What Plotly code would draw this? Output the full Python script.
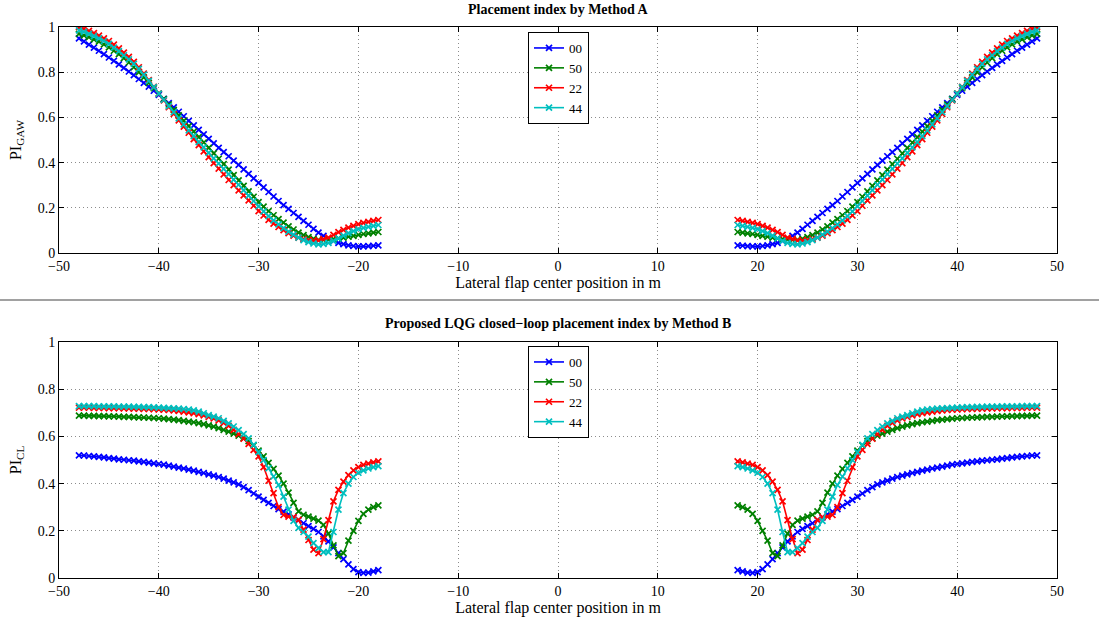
import plotly.graph_objects as go

# Lateral positions (left wing); right wing is the mirror image
x_left = [-48.0, -47.5, -47.0, -46.5, -46.0, -45.5, -45.0, -44.5, -44.0, -43.5,
          -43.0, -42.5, -42.0, -41.5, -41.0, -40.5, -40.0, -39.5, -39.0, -38.5,
          -38.0, -37.5, -37.0, -36.5, -36.0, -35.5, -35.0, -34.5, -34.0, -33.5,
          -33.0, -32.5, -32.0, -31.5, -31.0, -30.5, -30.0, -29.5, -29.0, -28.5,
          -28.0, -27.5, -27.0, -26.5, -26.0, -25.5, -25.0, -24.5, -24.0, -23.5,
          -23.0, -22.5, -22.0, -21.5, -21.0, -20.5, -20.0, -19.5, -19.0, -18.5, -18.0]

series_names = ["00", "50", "22", "44"]
series_colors = ["#0000ff", "#008000", "#ff0000", "#00bfbf"]

# Method A (PI_GAW), left side values
gaw_00 = [0.950, 0.936, 0.922, 0.909, 0.895, 0.880, 0.865, 0.850, 0.835, 0.819,
          0.803, 0.787, 0.770, 0.753, 0.736, 0.718, 0.700, 0.682, 0.663, 0.644,
          0.625, 0.605, 0.585, 0.565, 0.545, 0.525, 0.505, 0.485, 0.465, 0.446,
          0.428, 0.409, 0.390, 0.370, 0.350, 0.330, 0.310, 0.290, 0.270, 0.250,
          0.230, 0.212, 0.195, 0.177, 0.160, 0.142, 0.125, 0.107, 0.090, 0.076,
          0.063, 0.053, 0.045, 0.039, 0.034, 0.031, 0.029, 0.029, 0.030, 0.032, 0.034]
gaw_50 = [0.970, 0.963, 0.955, 0.945, 0.935, 0.923, 0.910, 0.895, 0.880, 0.862,
          0.843, 0.822, 0.800, 0.777, 0.753, 0.729, 0.705, 0.681, 0.657, 0.633,
          0.609, 0.585, 0.561, 0.537, 0.513, 0.489, 0.465, 0.441, 0.417, 0.393,
          0.369, 0.345, 0.321, 0.297, 0.273, 0.249, 0.225, 0.205, 0.185, 0.167,
          0.150, 0.134, 0.118, 0.104, 0.090, 0.079, 0.070, 0.063, 0.058, 0.058,
          0.060, 0.062, 0.065, 0.068, 0.072, 0.076, 0.080, 0.084, 0.087, 0.090, 0.093]
gaw_22 = [1.000, 0.992, 0.983, 0.973, 0.962, 0.950, 0.938, 0.922, 0.905, 0.887,
          0.868, 0.846, 0.822, 0.794, 0.765, 0.735, 0.705, 0.675, 0.645, 0.616,
          0.587, 0.559, 0.532, 0.504, 0.477, 0.450, 0.424, 0.398, 0.373, 0.348,
          0.323, 0.300, 0.277, 0.255, 0.233, 0.209, 0.185, 0.166, 0.147, 0.130,
          0.115, 0.101, 0.088, 0.077, 0.068, 0.062, 0.057, 0.055, 0.056, 0.061,
          0.068, 0.080, 0.092, 0.102, 0.112, 0.120, 0.128, 0.133, 0.138, 0.142, 0.146]
gaw_44 = [0.985, 0.978, 0.970, 0.960, 0.950, 0.938, 0.925, 0.909, 0.893, 0.875,
          0.857, 0.837, 0.815, 0.789, 0.762, 0.734, 0.705, 0.677, 0.650, 0.623,
          0.596, 0.569, 0.543, 0.517, 0.491, 0.467, 0.443, 0.419, 0.396, 0.372,
          0.349, 0.325, 0.302, 0.278, 0.254, 0.230, 0.207, 0.184, 0.163, 0.144,
          0.127, 0.110, 0.095, 0.081, 0.068, 0.057, 0.048, 0.042, 0.038, 0.040,
          0.045, 0.054, 0.065, 0.077, 0.088, 0.097, 0.105, 0.111, 0.116, 0.120, 0.124]

# Method B (PI_CL), left side values
cl_00 = [0.520, 0.519, 0.517, 0.515, 0.513, 0.511, 0.508, 0.506, 0.503, 0.501,
         0.499, 0.497, 0.494, 0.492, 0.489, 0.486, 0.483, 0.480, 0.476, 0.472,
         0.468, 0.464, 0.459, 0.455, 0.450, 0.445, 0.439, 0.434, 0.428, 0.421,
         0.413, 0.405, 0.397, 0.385, 0.372, 0.358, 0.345, 0.331, 0.318, 0.305,
         0.292, 0.281, 0.270, 0.257, 0.245, 0.232, 0.220, 0.208, 0.195, 0.176,
         0.155, 0.130, 0.105, 0.080, 0.058, 0.038, 0.025, 0.022, 0.023, 0.028, 0.033]
cl_50 = [0.688, 0.688, 0.687, 0.687, 0.686, 0.686, 0.685, 0.685, 0.684, 0.683,
         0.683, 0.682, 0.681, 0.680, 0.679, 0.678, 0.677, 0.675, 0.673, 0.671,
         0.669, 0.666, 0.663, 0.660, 0.656, 0.652, 0.647, 0.641, 0.635, 0.628,
         0.620, 0.612, 0.603, 0.593, 0.580, 0.562, 0.540, 0.515, 0.488, 0.462,
         0.434, 0.400, 0.362, 0.318, 0.282, 0.268, 0.260, 0.252, 0.243, 0.225,
         0.188, 0.138, 0.093, 0.105, 0.158, 0.200, 0.242, 0.272, 0.290, 0.300, 0.308]
cl_22 = [0.722, 0.722, 0.722, 0.721, 0.721, 0.721, 0.720, 0.720, 0.720, 0.719,
         0.719, 0.718, 0.718, 0.717, 0.716, 0.715, 0.714, 0.713, 0.712, 0.710,
         0.708, 0.705, 0.702, 0.698, 0.694, 0.689, 0.683, 0.676, 0.668, 0.657,
         0.645, 0.628, 0.610, 0.590, 0.568, 0.543, 0.515, 0.470, 0.412, 0.360,
         0.300, 0.267, 0.260, 0.258, 0.246, 0.205, 0.161, 0.120, 0.105, 0.165,
         0.245, 0.325, 0.373, 0.408, 0.436, 0.456, 0.470, 0.479, 0.485, 0.490, 0.494]
cl_44 = [0.728, 0.728, 0.728, 0.728, 0.727, 0.727, 0.727, 0.727, 0.726, 0.726,
         0.726, 0.725, 0.725, 0.724, 0.724, 0.723, 0.722, 0.721, 0.720, 0.719,
         0.718, 0.716, 0.714, 0.710, 0.705, 0.698, 0.690, 0.684, 0.677, 0.666,
         0.655, 0.642, 0.627, 0.610, 0.592, 0.564, 0.533, 0.500, 0.465, 0.430,
         0.394, 0.345, 0.290, 0.242, 0.212, 0.195, 0.175, 0.148, 0.127, 0.110,
         0.110, 0.195, 0.290, 0.360, 0.400, 0.428, 0.446, 0.456, 0.464, 0.470, 0.474]

gaw_series = [gaw_00, gaw_50, gaw_22, gaw_44]
cl_series = [cl_00, cl_50, cl_22, cl_44]

x_tick_vals = [-50, -40, -30, -20, -10, 0, 10, 20, 30, 40, 50]
y_tick_vals = [0, 0.2, 0.4, 0.6, 0.8, 1]
y_tick_text = ["0", "0.2", "0.4", "0.6", "0.8", "1"]

FONT = "Liberation Serif, Times New Roman, serif"


def both_sides(vals):
    xs = list(x_left) + [None] + [-v for v in reversed(x_left)]
    ys = list(vals) + [None] + list(reversed(vals))
    return xs, ys


fig = go.Figure()
for name, color, vals in zip(series_names, series_colors, gaw_series):
    xs, ys = both_sides(vals)
    fig.add_trace(go.Scatter(x=xs, y=ys, name=name, mode="lines+markers",
                             line=dict(color=color, width=1.6),
                             marker=dict(symbol="x-thin", size=6,
                                         line=dict(color=color, width=1.7)),
                             xaxis="x", yaxis="y", legend="legend"))
for name, color, vals in zip(series_names, series_colors, cl_series):
    xs, ys = both_sides(vals)
    fig.add_trace(go.Scatter(x=xs, y=ys, name=name, mode="lines+markers",
                             line=dict(color=color, width=1.6),
                             marker=dict(symbol="x-thin", size=6,
                                         line=dict(color=color, width=1.7)),
                             xaxis="x2", yaxis="y2", legend="legend2"))

W, H = 1099, 619
ml, mr, mt, mb = 59, 42, 27, 41
ph = H - mt - mb


def py(pix):
    return (H - mb - pix) / ph


def px(pix):
    return (pix - ml) / (W - ml - mr)


axis_common = dict(showline=True, linecolor="black", linewidth=1, mirror="allticks",
                   ticks="inside", ticklen=5, tickcolor="black", automargin=False,
                   showgrid=True, gridcolor="#8c8c8c", griddash="1px,3px", gridwidth=1,
                   zeroline=False, tickfont=dict(family=FONT, size=14, color="black"))

xaxis_common = dict(axis_common, range=[-50, 50], tickvals=x_tick_vals,
                    title=dict(text="Lateral flap center position in m",
                               font=dict(family=FONT, size=16, color="black"),
                               standoff=0))
yaxis_common = dict(axis_common, range=[0, 1], tickvals=y_tick_vals,
                    ticktext=y_tick_text)

legend_common = dict(bgcolor="white", bordercolor="black", borderwidth=1,
                     font=dict(family=FONT, size=13, color="black"),
                     itemwidth=30, tracegroupgap=0,
                     xanchor="left", yanchor="top")

fig.update_layout(
    width=W, height=H,
    margin=dict(l=ml, r=mr, t=mt, b=mb),
    paper_bgcolor="white", plot_bgcolor="white",
    font=dict(family=FONT, color="black"),
    showlegend=True,
    xaxis=dict(xaxis_common, domain=[0, 1], anchor="y"),
    yaxis=dict(yaxis_common, domain=[py(253), 1],
               title=dict(text="PI<sub>GAW</sub>",
                          font=dict(family=FONT, size=16, color="black"),
                          standoff=12)),
    xaxis2=dict(xaxis_common, domain=[0, 1], anchor="y2"),
    yaxis2=dict(yaxis_common, domain=[0, py(342)],
                title=dict(text="PI<sub>CL</sub>",
                           font=dict(family=FONT, size=16, color="black"),
                           standoff=12)),
    legend=dict(legend_common, x=px(528), y=py(32)),
    legend2=dict(legend_common, x=px(528), y=py(346)),
    annotations=[
        dict(text="<b>Placement index by Method A</b>", xref="paper", yref="paper",
             x=px(558), y=py(10), xanchor="center", yanchor="middle", showarrow=False,
             font=dict(family=FONT, size=14, color="black")),
        dict(text="<b>Proposed LQG closed\u2212loop placement index by Method B</b>",
             xref="paper", yref="paper", x=px(558), y=py(323), xanchor="center",
             yanchor="middle", showarrow=False,
             font=dict(family=FONT, size=14, color="black")),
    ],
    shapes=[
        dict(type="line", xref="paper", yref="paper", x0=px(0), x1=px(1099),
             y0=py(300), y1=py(300), line=dict(color="#444444", width=1.2)),
    ],
)

fig.write_html("out.html", config={"displayModeBar": False},
               post_script="document.body.style.margin='0px';document.body.style.overflow='hidden';")
